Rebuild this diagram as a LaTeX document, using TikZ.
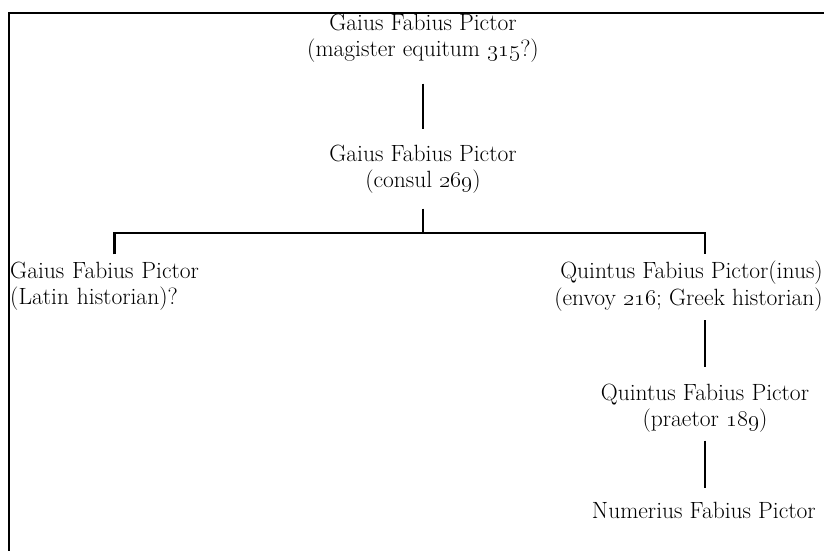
\RequirePackage{fix-cm}
\documentclass[tikz,border=0pt]{standalone}

\begin{document}
\begin{tikzpicture}[x=1pt,y=-1pt,
    person/.style={inner sep=0pt, font=\fontsize{23.5}{26.5}\selectfont},
    link/.style={line width=2.6pt}]
    \useasboundingbox (0,0) rectangle (824,551);

    % Rahmen (oben und links)
    \draw[line width=2.4pt] (824,13) -- (9,13) -- (9,551);

    % Personen
    \node[person, align=center] (magister) at (423,38) {Gaius Fabius Pictor\\(magister equitum \oldstylenums{315}?)};
    \node[person, align=center] (consul) at (423,169) {Gaius Fabius Pictor\\(consul \oldstylenums{269})};
    \node[person, align=left, text width=208pt, anchor=west] (latin) at (10,286) {Gaius Fabius Pictor\\(Latin historian)?};
    \node[person, align=right, anchor=east] (quintus) at (823,286) {Quintus Fabius Pictor(inus)\\(envoy \oldstylenums{216}; Greek historian)};
    \node[person, align=center] (praetor) at (705,408) {Quintus Fabius Pictor\\(praetor \oldstylenums{189})};
    \node[person, anchor=east] (numerius) at (816,510) {Numerius Fabius Pictor};

    % Verbindungen
    \coordinate (fork) at (423,233);
    \draw[link, shorten <=21pt, shorten >=15pt] (magister) -- (consul);
    \draw[link, shorten <=15pt] (consul) -- (fork);
    \draw[link] ([yshift=7pt]latin.north) |- (fork) -| ([yshift=7pt]praetor.north |- quintus.north);
    \draw[link, shorten <=9pt, shorten >=16pt] (praetor.north |- quintus.south) -- (praetor.north);
    \draw[link, shorten <=8pt, shorten >=14pt] (praetor.south) -- (praetor.south |- numerius.north);
\end{tikzpicture}
\end{document}
